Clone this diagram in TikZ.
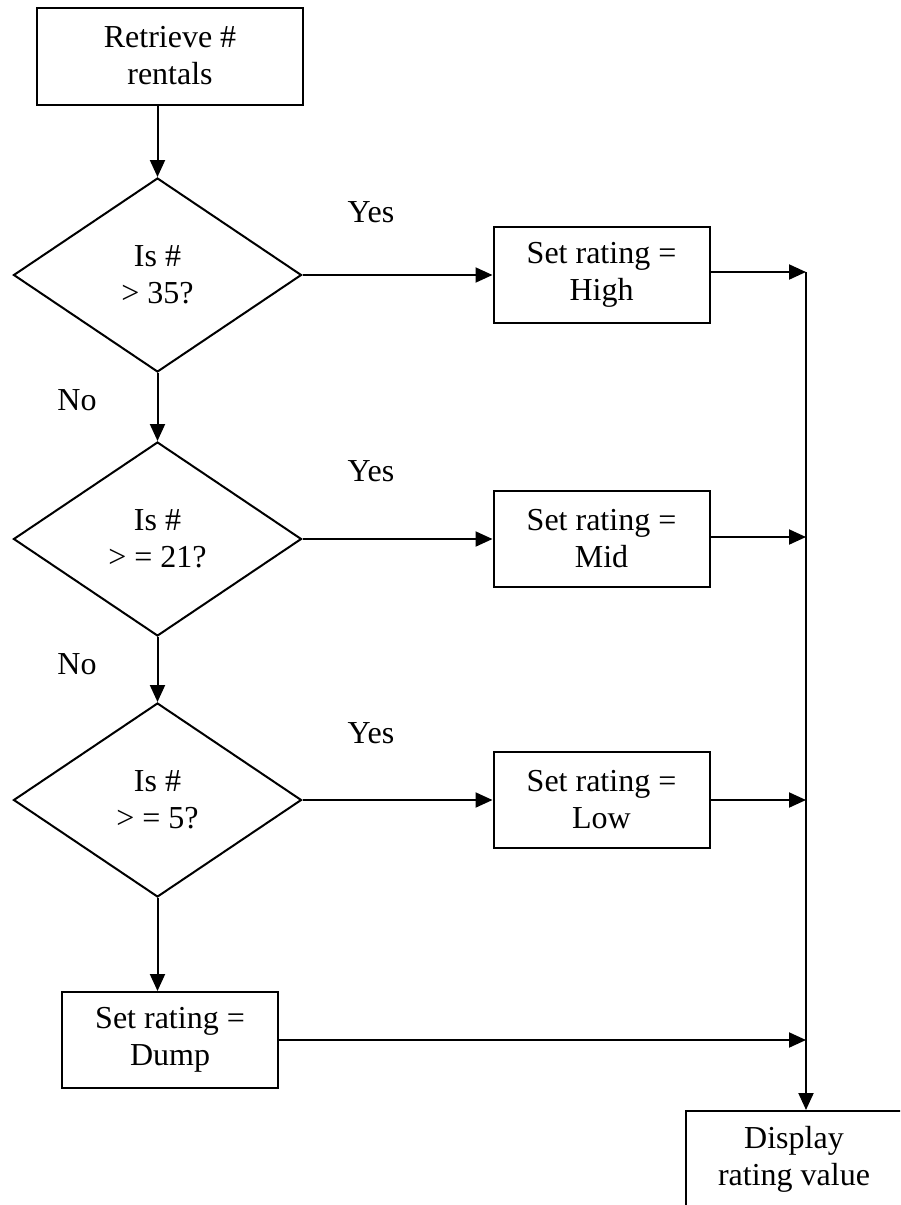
\documentclass[tikz,border=0pt]{standalone}
\usepackage{fontspec}
\setmainfont{Liberation Serif}
\usetikzlibrary{shapes.geometric,arrows.meta}
\begin{document}
\begin{tikzpicture}[x=1pt,y=-1pt,
  every node/.style={font=\fontsize{32}{37}\selectfont, align=center, inner sep=0pt},
  procbox/.style={draw, line width=2pt, minimum width=216pt, minimum height=96pt},
  decision/.style={draw, diamond, line width=2pt, minimum width=288pt, minimum height=194pt},
  arr/.style={line width=2pt, -{Triangle[length=17pt,width=15pt]}},
  lbl/.style={font=\fontsize{32}{37}\selectfont}]
\clip (0,0) rectangle (900,1205);
\fill[white] (0,0) rectangle (900,1205);
% nodes
\node[procbox, minimum width=266pt, minimum height=97pt] (start) at (170,56) {Retrieve \#\\rentals};
\node[decision] (d1) at (157.5,275) {Is \#\\> 35?};
\node[decision] (d2) at (157.5,539) {Is \#\\> = 21?};
\node[decision] (d3) at (157.5,800) {Is \#\\> = 5?};
\node[procbox] (high) at (601.5,274.5) {Set rating =\\High};
\node[procbox] (mid) at (601.5,539) {Set rating =\\Mid};
\node[procbox] (low) at (601.5,800) {Set rating =\\Low};
\node[procbox] (dump) at (170,1040) {Set rating =\\Dump};
\node[procbox] (disp) at (794,1159) {Display\\rating value};
% junction points on the collecting line
\coordinate (j1) at (806,272);
\coordinate (j2) at (806,537);
\coordinate (j3) at (806,800);
\coordinate (j4) at (806,1040);
% labels
\node[lbl] (yes1) at (371,212) {Yes};
\node[lbl] (yes2) at (371,471) {Yes};
\node[lbl] (yes3) at (371,733) {Yes};
\node[lbl] (no1) at (77,400) {No};
\node[lbl] (no2) at (77,664) {No};
% connectors
\draw[arr] (d1.north |- start.south) -- (d1.north);
\draw[arr] (d1.south) -- (d2.north);
\draw[arr] (d2.south) -- (d3.north);
\draw[arr] (d3.south) -- (d3.south |- dump.north);
\draw[arr] (d1.east) -- (d1.east -| high.west);
\draw[arr] (d2.east) -- (d2.east -| mid.west);
\draw[arr] (d3.east) -- (d3.east -| low.west);
\draw[arr] (j1 -| high.east) -- (j1);
\draw[arr] (j2 -| mid.east) -- (j2);
\draw[arr] (j3 -| low.east) -- (j3);
\draw[arr] (dump.east |- j4) -- (j4);
\draw[arr] (j1) -- (j1 |- disp.north);
\end{tikzpicture}
\end{document}
